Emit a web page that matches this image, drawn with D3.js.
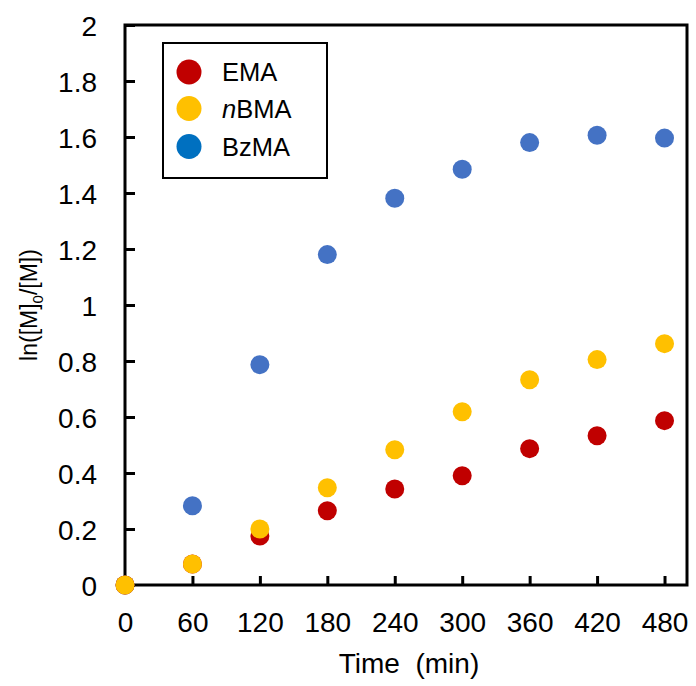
<!DOCTYPE html>
<html>
<head>
<meta charset="utf-8">
<script src="https://cdn.jsdelivr.net/npm/d3@7"></script>
<style>
  html, body { margin: 0; padding: 0; background: #fff; }
  svg { display: block; }
  text { font-family: Arial, "Liberation Sans", sans-serif; fill: #000; }
</style>
</head>
<body>
<svg id="chart" width="696" height="686"></svg>
<script>
const times = [0, 60, 120, 180, 240, 300, 360, 420, 480];
const emaValues   = [0, 0.075, 0.175, 0.265, 0.343, 0.39, 0.487, 0.533, 0.587];
const nbmaValues  = [0, 0.075, 0.2, 0.347, 0.483, 0.619, 0.733, 0.805, 0.862];
const bzmaValues  = [0, 0.283, 0.787, 1.18, 1.381, 1.485, 1.58, 1.606, 1.596];
const xTicks = [0, 60, 120, 180, 240, 300, 360, 420, 480];
const yTicks = [0, 0.2, 0.4, 0.6, 0.8, 1, 1.2, 1.4, 1.6, 1.8, 2];
const seriesNames = ["EMA", "nBMA", "BzMA"];
const seriesColors = ["#C00000", "#FFC000", "#4472C4"];
const legendColors = ["#C00000", "#FFC000", "#0070C0"];

const svg = d3.select("#chart");
const mLeft = 125, mRight = 687, mTop = 25, mBottom = 585;

const x = d3.scaleLinear().domain([0, 500]).range([mLeft, mRight]);
const y = d3.scaleLinear().domain([0, 2]).range([mBottom, mTop]);

// frame
svg.append("rect")
  .attr("x", mLeft).attr("y", mTop)
  .attr("width", mRight - mLeft).attr("height", mBottom - mTop)
  .attr("fill", "none").attr("stroke", "#000").attr("stroke-width", 3);

// x axis (ticks inward)
const xAxis = d3.axisTop(x).tickValues(xTicks).tickSize(9).tickFormat(d3.format("d"));
const gx = svg.append("g").attr("transform", `translate(0,${mBottom})`).call(xAxis);
gx.select(".domain").remove();
gx.selectAll(".tick line").attr("stroke", "#000").attr("stroke-width", 3);
gx.selectAll(".tick text")
  .attr("y", 47).attr("dy", 0)
  .style("font-size", "28px").style("font-family", "Arial, 'Liberation Sans', sans-serif")
  .attr("fill", "#1a1a1a");

// y axis (ticks inward)
const yAxis = d3.axisRight(y).tickValues(yTicks).tickSize(10).tickFormat(d => d3.format("~g")(d));
const gy = svg.append("g").attr("transform", `translate(${mLeft},0)`).call(yAxis);
gy.select(".domain").remove();
gy.selectAll(".tick line").attr("stroke", "#000").attr("stroke-width", 3);
gy.selectAll(".tick text")
  .attr("x", -28).attr("dy", "0.38em")
  .attr("text-anchor", "end")
  .style("font-size", "28px").style("font-family", "Arial, 'Liberation Sans', sans-serif")
  .attr("fill", "#1a1a1a");

// axis titles
svg.append("text")
  .attr("x", (mLeft + mRight) / 2 + 3).attr("y", 673)
  .attr("text-anchor", "middle")
  .style("font-size", "28px")
  .style("white-space", "pre")
  .attr("fill", "#1a1a1a")
  .text("Time  (min)");

const yt = svg.append("text")
  .attr("transform", `translate(37,${(mTop + mBottom) / 2}) rotate(-90)`)
  .attr("text-anchor", "middle")
  .style("font-size", "23px")
  .attr("fill", "#1a1a1a");
yt.append("tspan").text("ln([M]");
yt.append("tspan").attr("dy", 6).style("font-size", "15px").text("0");
yt.append("tspan").attr("dy", -6).text("/[M])");

// points
const series = [
  { name: "BzMA", values: bzmaValues, color: seriesColors[2] },
  { name: "EMA", values: emaValues, color: seriesColors[0] },
  { name: "nBMA", values: nbmaValues, color: seriesColors[1] }
];
series.forEach(s => {
  svg.append("g").selectAll("circle")
    .data(times.map((t, i) => ({ t, v: s.values[i] })))
    .join("circle")
    .attr("cx", d => x(d.t))
    .attr("cy", d => y(d.v))
    .attr("r", 9.5)
    .attr("fill", s.color);
});

// legend
const lg = svg.append("g");
lg.append("rect")
  .attr("x", 163).attr("y", 43).attr("width", 164).attr("height", 135)
  .attr("fill", "#fff").attr("stroke", "#000").attr("stroke-width", 2);
const legendY = [72, 108.5, 146.5];
seriesNames.forEach((n, i) => {
  lg.append("circle").attr("cx", 189).attr("cy", legendY[i]).attr("r", 12.5).attr("fill", legendColors[i]);
  const t = lg.append("text").attr("x", 222).attr("y", legendY[i] + 9)
    .style("font-size", "25.5px").attr("fill", "#1a1a1a");
  if (n === "nBMA") {
    t.append("tspan").style("font-style", "italic").text("n");
    t.append("tspan").text("BMA");
  } else {
    t.text(n);
  }
});
</script>
</body>
</html>
